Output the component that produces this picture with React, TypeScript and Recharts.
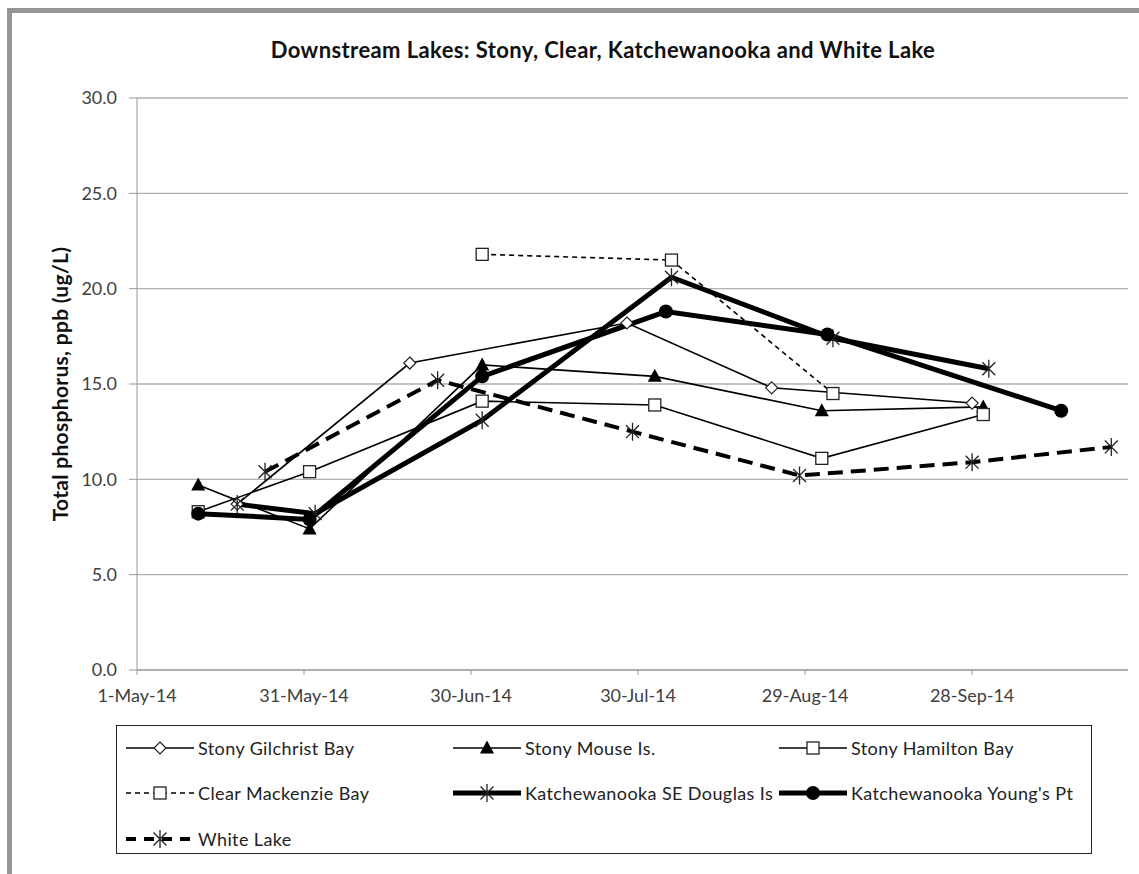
import React from 'react';
import { LineChart, Line, XAxis, YAxis, CartesianGrid } from 'recharts';

const START = '2014-05-01';
const xTicks = [0, 30, 60, 90, 120, 150];
const xTickLabels = ['1-May-14', '31-May-14', '30-Jun-14', '30-Jul-14', '29-Aug-14', '28-Sep-14'];
const yTicks = [0, 5, 10, 15, 20, 25, 30];

const gilchristDates = ['2014-05-19', '2014-06-19', '2014-07-28', '2014-08-23', '2014-09-28'];
const gilchristTP = [8.7, 16.1, 18.2, 14.8, 14.0];

const mouseDates = ['2014-05-12', '2014-06-01', '2014-07-02', '2014-08-02', '2014-09-01', '2014-09-30'];
const mouseTP = [9.7, 7.4, 16.0, 15.4, 13.6, 13.8];

const hamiltonDates = ['2014-05-12', '2014-06-01', '2014-07-02', '2014-08-02', '2014-09-01', '2014-09-30'];
const hamiltonTP = [8.3, 10.4, 14.1, 13.9, 11.1, 13.4];

const mackenzieDates = ['2014-07-02', '2014-08-05', '2014-09-03'];
const mackenzieTP = [21.8, 21.5, 14.5];

const douglasDates = ['2014-05-19', '2014-06-02', '2014-07-02', '2014-08-05', '2014-09-03', '2014-10-01'];
const douglasTP = [8.7, 8.2, 13.1, 20.6, 17.4, 15.8];

const youngsDates = ['2014-05-12', '2014-06-01', '2014-07-02', '2014-08-04', '2014-09-02', '2014-10-14'];
const youngsTP = [8.2, 7.9, 15.4, 18.8, 17.6, 13.6];

const whiteDates = ['2014-05-24', '2014-06-24', '2014-07-29', '2014-08-28', '2014-09-28', '2014-10-23'];
const whiteTP = [10.4, 15.2, 12.5, 10.2, 10.9, 11.7];

const dayOf = (d: string) => Math.round((Date.parse(d) - Date.parse(START)) / 86400000);
const toRows = (dates: string[], vals: number[]) => dates.map((d, i) => ({ day: dayOf(d), tp: vals[i] }));

type MarkerKind = 'diamond' | 'triangle' | 'square' | 'circle' | 'star';

const Marker = ({ kind, cx, cy }: { kind: MarkerKind; cx: number; cy: number }) => {
  if (kind === 'diamond')
    return <path d={`M${cx},${cy - 6}L${cx + 6},${cy}L${cx},${cy + 6}L${cx - 6},${cy}Z`} fill="#fff" stroke="#222" strokeWidth={1.2} />;
  if (kind === 'triangle')
    return <path d={`M${cx},${cy - 7.5}L${cx + 7},${cy + 5.5}L${cx - 7},${cy + 5.5}Z`} fill="#000" />;
  if (kind === 'square')
    return <rect x={cx - 6} y={cy - 6} width={12} height={12} fill="#fff" stroke="#222" strokeWidth={1.3} />;
  if (kind === 'circle') return <circle cx={cx} cy={cy} r={7} fill="#000" />;
  const r = 9;
  const d = r * 0.72;
  return (
    <path
      d={`M${cx},${cy - r}V${cy + r}M${cx - d},${cy - d}L${cx + d},${cy + d}M${cx + d},${cy - d}L${cx - d},${cy + d}`}
      stroke="#222"
      strokeWidth={1.3}
      fill="none"
    />
  );
};

const series = [
  { name: 'Stony Gilchrist Bay', data: toRows(gilchristDates, gilchristTP), width: 1.6, dash: undefined, marker: 'diamond' as MarkerKind },
  { name: 'Stony Mouse Is.', data: toRows(mouseDates, mouseTP), width: 1.6, dash: undefined, marker: 'triangle' as MarkerKind },
  { name: 'Stony Hamilton Bay', data: toRows(hamiltonDates, hamiltonTP), width: 1.6, dash: undefined, marker: 'square' as MarkerKind },
  { name: 'Clear Mackenzie Bay', data: toRows(mackenzieDates, mackenzieTP), width: 1.6, dash: '5 4', marker: 'square' as MarkerKind },
  { name: 'Katchewanooka SE Douglas Is', data: toRows(douglasDates, douglasTP), width: 5, dash: undefined, marker: 'star' as MarkerKind },
  { name: "Katchewanooka Young's Pt", data: toRows(youngsDates, youngsTP), width: 5, dash: undefined, marker: 'circle' as MarkerKind },
  { name: 'White Lake', data: toRows(whiteDates, whiteTP), width: 4, dash: '15 8', marker: 'star' as MarkerKind },
];

const legendCols = [9, 336, 662];
const legendRows = [22, 67, 113];

const font = 'Lato, "Open Sans", sans-serif';

export default function App() {
  return (
    <div style={{ position: 'absolute', left: 0, top: 0, width: 1139, height: 874, background: '#fff', fontFamily: font }}>
      <div style={{ position: 'absolute', left: 7, top: 8, width: 1132, height: 5, background: '#959595' }} />
      <div style={{ position: 'absolute', left: 7, top: 8, width: 5, height: 866, background: '#959595' }} />
      <div
        style={{
          position: 'absolute',
          left: 0,
          width: 1206,
          top: 36,
          textAlign: 'center',
          fontWeight: 'bold',
          fontSize: 22,
          letterSpacing: 0.4,
          color: '#111',
        }}
      >
        Downstream Lakes: Stony, Clear, Katchewanooka and White Lake
      </div>
      <div style={{ position: 'absolute', left: 0, top: 0 }}>
        <LineChart width={1139} height={874} margin={{ top: 98, right: 11, left: 17, bottom: 174 }}>
          <CartesianGrid vertical={false} stroke="#b0b0b0" strokeWidth={1.3} />
          <XAxis
            dataKey="day"
            type="number"
            domain={[0, 178]}
            ticks={xTicks}
            tickFormatter={(v: number) => xTickLabels[xTicks.indexOf(v)]}
            height={30}
            stroke="#999"
            tickSize={5}
            tickMargin={14}
            tick={{ fill: '#404040', fontSize: 18, fontFamily: font }}
            allowDataOverflow
          />
          <YAxis
            type="number"
            domain={[0, 30]}
            ticks={yTicks}
            width={120}
            stroke="#999"
            tickSize={8}
            tickMargin={12}
            tickFormatter={(v: number) => v.toFixed(1)}
            tick={{ fill: '#404040', fontSize: 18, fontFamily: font }}
            label={{
              value: 'Total phosphorus, ppb (ug/L)',
              angle: -90,
              position: 'insideLeft',
              offset: 44,
              style: { textAnchor: 'middle', fontWeight: 'bold', fontSize: 21, letterSpacing: 0.3, fill: '#111', fontFamily: font },
            }}
          />
          {series.map((s) => (
            <Line
              key={s.name}
              data={s.data}
              dataKey="tp"
              name={s.name}
              stroke="#000"
              strokeWidth={s.width}
              strokeDasharray={s.dash}
              isAnimationActive={false}
              dot={(p: any) => <Marker key={`${s.name}-${p.index}`} kind={s.marker} cx={p.cx} cy={p.cy} />}
              activeDot={false}
            />
          ))}
        </LineChart>
      </div>
      <div
        style={{
          position: 'absolute',
          left: 116,
          top: 725,
          width: 976,
          height: 129,
          border: '1.5px solid #222',
          boxSizing: 'border-box',
        }}
      >
        {series.map((s, i) => {
          const col = legendCols[i % 3];
          const row = legendRows[Math.floor(i / 3)];
          return (
            <div key={s.name} style={{ position: 'absolute', left: col, top: row - 12, height: 24, display: 'flex', alignItems: 'center' }}>
              <svg width={68} height={24}>
                <line x1={0} y1={12} x2={68} y2={12} stroke="#000" strokeWidth={s.width} strokeDasharray={s.dash === '15 8' ? '10 8' : s.dash} />
                <Marker kind={s.marker} cx={34} cy={12} />
              </svg>
              <span style={{ marginLeft: 4, fontSize: 18, letterSpacing: 0.4, color: '#222', whiteSpace: 'nowrap' }}>{s.name}</span>
            </div>
          );
        })}
      </div>
    </div>
  );
}
